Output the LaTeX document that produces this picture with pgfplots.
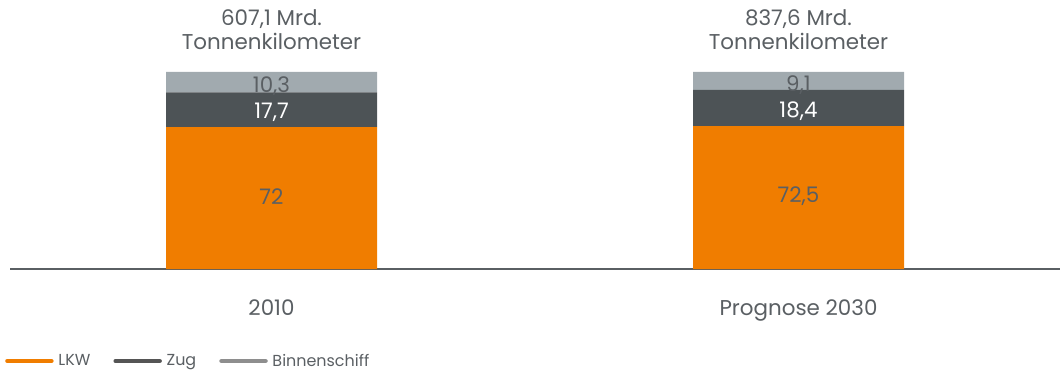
\documentclass[border=0pt]{standalone}
\usepackage{pgfplots}
\pgfplotsset{compat=1.18}
\usepackage{fontspec}
\setmainfont{Poppins}
\definecolor{lkw}{HTML}{F07D00}
\definecolor{zug}{HTML}{4D5356}
\definecolor{schiff}{HTML}{A1AAAF}
\definecolor{txt}{HTML}{5A5F63}
\definecolor{legzug}{HTML}{555555}
\definecolor{legschiff}{HTML}{8E8E8E}
\begin{document}
\begin{tikzpicture}[x=1bp,y=1bp]
\useasboundingbox (0,0) rectangle (1063,372);
\begin{axis}[
  at={(10bp,103bp)}, anchor=south west,
  scale only axis, width=1050bp, height=197bp,
  xmin=-0.4962, xmax=1.4962, ymin=0, ymax=100,
  ybar stacked, bar width=211bp,
  axis x line=bottom, axis y line=none,
  x axis line style={-, draw=txt, line width=1.2bp},
  xtick={0,1}, xticklabels={2010,Prognose 2030},
  major tick length=0pt,
  xticklabel style={font=\fontsize{21.5}{24}\selectfont, text=txt, yshift=-27bp},
  clip=false,
  /pgf/number format/assume math mode=true,
  point meta=explicit,
  nodes near coords={\pgfmathprintnumber[use comma]{\pgfplotspointmeta}},
  legend style={at={(-8bp,-92bp)}, anchor=west, draw=none, fill=none,
    font=\fontsize{16}{19}\selectfont, text=txt, legend columns=3,
    /tikz/every even column/.append style={column sep=21bp}},
  legend cell align=left,
]
\addplot[fill=lkw, draw=none, bar shift=0pt,
  every node near coord/.style={font=\fontsize{21.5}{24}\selectfont, anchor=center, text=txt, yshift=1.5bp},
  legend image code/.code={\draw[lkw, line width=4.5bp, line cap=round] (0bp,0bp) -- (44bp,0bp); \path (49bp,0bp);}]
  coordinates {(0,72) [72] (1,72.5) [72.5]};
\addlegendentry{LKW}
\addplot[fill=zug, draw=none, bar shift=0pt,
  every node near coord/.style={font=\fontsize{21.5}{24}\selectfont, anchor=center, text=white, yshift=-3bp},
  legend image code/.code={\draw[legzug, line width=4.5bp, line cap=round] (0bp,0bp) -- (44bp,0bp); \path (49bp,0bp);}]
  coordinates {(0,17.7) [17.7] (1,18.4) [18.4]};
\addlegendentry{Zug}
\addplot[fill=schiff, draw=none, bar shift=0pt,
  every node near coord/.style={font=\fontsize{21.5}{24}\selectfont, anchor=center, text=txt, yshift=-4bp},
  legend image code/.code={\draw[legschiff, line width=4.5bp, line cap=round] (0bp,0bp) -- (44bp,0bp); \path (49bp,0bp);}]
  coordinates {(0,10.3) [10.3] (1,9.1) [9.1]};
\addlegendentry{Binnenschiff}
\node[font=\fontsize{21.5}{24}\selectfont, text=txt, align=center, anchor=south] at (axis cs:0,100) [yshift=18.5bp] {607,1 Mrd.\\Tonnenkilometer};
\node[font=\fontsize{21.5}{24}\selectfont, text=txt, align=center, anchor=south] at (axis cs:1,100) [yshift=18.5bp] {837,6 Mrd.\\Tonnenkilometer};
\end{axis}
\end{tikzpicture}
\end{document}
